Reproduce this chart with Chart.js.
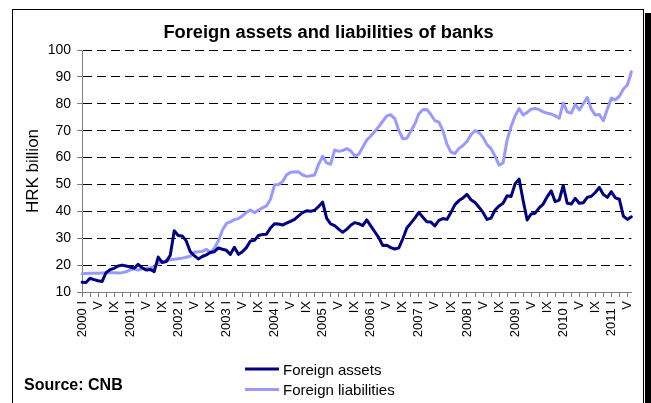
<!DOCTYPE html>
<html>
<head>
<meta charset="utf-8">
<script src="https://cdn.jsdelivr.net/npm/chart.js@4.4.0/dist/chart.umd.min.js"></script>
<style>
  html, body { margin: 0; padding: 0; background: #fff; }
</style>
</head>
<body>
<canvas id="chart" width="651" height="403"></canvas>
<script>
const FONT = '"Liberation Sans", Arial, sans-serif';

// monthly data, January 2000 - June 2011, HRK billion
const years = [2000, 2001, 2002, 2003, 2004, 2005, 2006, 2007, 2008, 2009, 2010, 2011];
const monthMarks = ['I', 'II', 'III', 'IV', 'V', 'VI', 'VII', 'VIII', 'IX', 'X', 'XI', 'XII'];
const lastMonth2011 = 6;

const foreignAssets = [
    13.6, 13.5, 15.1, 14.6, 14.2, 13.9, 17.2, 18.3, 18.8, 19.7, 20.0, 19.7,
    19.3, 18.9, 20.3, 19.0, 18.2, 18.4, 17.6, 23.0, 21.0, 21.3, 23.6, 32.8,
    31.0, 30.8, 29.0, 25.0, 23.5, 22.3, 23.2, 23.8, 24.7, 25.0, 26.4, 25.9,
    25.5, 24.0, 26.6, 24.0, 25.0, 26.5, 29.0, 29.2, 31.0, 31.4, 31.5, 33.8,
    35.4, 35.3, 34.9, 35.6, 36.3, 37.0, 38.3, 39.5, 40.2, 40.0, 40.4, 41.8,
    43.4, 37.5, 35.3, 34.7, 33.4, 32.2, 33.3, 34.8, 35.8, 35.4, 34.7, 36.8,
    34.6, 32.4, 30.2, 27.3, 27.4, 26.5, 26.0, 26.4, 29.8, 33.8, 35.6, 37.5,
    39.6, 37.8, 36.1, 36.0, 34.6, 36.6, 37.3, 37.0, 39.6, 42.5, 44.0, 45.0,
    46.3, 44.3, 43.3, 41.5, 39.6, 37.0, 37.5, 40.5, 42.0, 43.0, 45.8, 45.5,
    50.2, 52.0, 44.0, 36.8, 39.0, 39.3, 41.3, 42.7, 45.4, 47.6, 43.6, 44.2,
    49.6, 43.0, 42.7, 44.8, 43.0, 43.2, 45.2, 45.6, 47.0, 48.9, 46.3, 45.2,
    47.3, 45.0, 44.5, 38.2, 37.0, 38.0
];

const foreignLiabilities = [
    16.8, 16.9, 17.0, 17.0, 17.0, 17.1, 17.1, 17.2, 17.2, 17.1, 17.2, 17.5,
    18.2, 18.5, 18.2, 18.5, 18.8, 19.0, 19.3, 20.8, 21.2, 21.6, 22.0, 22.2,
    22.4, 22.6, 22.9, 23.3, 24.8, 25.0, 25.1, 25.9, 24.7, 26.3, 29.0, 33.0,
    35.5, 36.1, 36.9, 37.3, 38.3, 39.6, 40.5, 39.5, 40.5, 41.3, 42.0, 44.5,
    49.8, 50.0, 51.0, 53.5, 54.5, 54.6, 54.7, 53.5, 53.0, 53.2, 53.5, 57.5,
    60.5, 58.0, 57.5, 62.8, 62.3, 62.6, 63.3, 62.5, 60.6, 61.2, 63.8, 66.5,
    68.0, 69.7, 71.5, 73.5, 75.5, 75.9, 74.5, 70.0, 67.0, 67.2, 69.8, 72.5,
    76.3, 77.8, 77.9, 76.0, 73.7, 73.2, 70.0, 65.0, 62.0, 61.5, 63.4, 64.5,
    66.0, 68.5, 70.0, 69.3, 67.5, 64.8, 63.3, 60.5, 57.2, 58.0, 66.5, 71.5,
    75.5, 78.2, 75.8, 76.8, 78.0, 78.3, 77.8, 77.0, 76.5, 76.2, 75.5, 74.6,
    80.3, 77.0, 76.5, 79.8, 77.7, 80.0, 82.3, 78.0, 75.8, 76.0, 73.7, 78.0,
    82.1, 81.5, 82.8, 85.5, 87.0, 91.9
];

const months = [];
years.forEach(y => {
    monthMarks.forEach((m, k) => {
        if (y < 2011 || k < lastMonth2011) months.push({ year: y, mark: m, k: k });
    });
});

// only I, V and IX get a label; the year goes with January
function tickLabel(i) {
    const m = months[i];
    if (m.k === 0) return m.year + ' ' + m.mark;
    if (m.k === 4 || m.k === 8) return m.mark;
    return '';
}

const framePlugin = {
    id: 'frame',
    beforeDraw(chart) {
        const ctx = chart.ctx;
        ctx.save();
        ctx.fillStyle = '#fff';
        ctx.fillRect(0, 0, chart.width, chart.height);
        ctx.restore();
    },
    afterDraw(chart) {
        const ctx = chart.ctx;
        ctx.save();
        // outer border with shadow
        ctx.strokeStyle = '#000';
        ctx.lineWidth = 1;
        ctx.strokeRect(12.5, 9.5, 631, 410);
        ctx.fillStyle = '#000';
        ctx.fillRect(645, 13, 6, 390);

        // title
        ctx.fillStyle = '#000';
        ctx.font = 'bold 18.3px ' + FONT;
        ctx.textAlign = 'center';
        ctx.textBaseline = 'middle';
        ctx.fillText('Foreign assets and liabilities of banks', 328.5, 33);

        // legend, stacked
        ctx.font = '15px ' + FONT;
        ctx.textAlign = 'left';
        chart.data.datasets.forEach((ds, n) => {
            const y = 369 + n * 20.5;
            ctx.strokeStyle = ds.borderColor;
            ctx.lineWidth = 3;
            ctx.beginPath();
            ctx.moveTo(245, y);
            ctx.lineTo(279, y);
            ctx.stroke();
            ctx.fillStyle = '#000';
            ctx.fillText(ds.label, 283, y + 1.5);
        });

        ctx.font = 'bold 16px ' + FONT;
        ctx.fillText('Source: CNB', 24, 386);
        ctx.restore();
    }
};

new Chart(document.getElementById('chart'), {
    type: 'line',
    data: {
        labels: months.map(m => m.year + ' ' + m.mark),
        datasets: [{
            label: 'Foreign assets',
            data: foreignAssets,
            borderColor: '#000080',
            borderWidth: 3,
            pointRadius: 0,
            tension: 0,
            borderJoinStyle: 'round',
            borderCapStyle: 'round'
        }, {
            label: 'Foreign liabilities',
            data: foreignLiabilities,
            borderColor: '#9999FF',
            borderWidth: 3,
            pointRadius: 0,
            tension: 0,
            borderJoinStyle: 'round',
            borderCapStyle: 'round'
        }]
    },
    options: {
        responsive: false,
        animation: false,
        devicePixelRatio: 1,
        layout: { padding: { left: 0, right: 15, top: 50, bottom: 0 } },
        plugins: {
            legend: { display: false },
            tooltip: { enabled: false },
            title: { display: false }
        },
        scales: {
            x: {
                ticks: {
                    autoSkip: false,
                    minRotation: 90,
                    maxRotation: 90,
                    padding: 4,
                    color: '#000',
                    font: { family: FONT, size: 13 },
                    callback: (v, i) => tickLabel(i)
                },
                grid: {
                    drawOnChartArea: false,
                    drawTicks: true,
                    tickLength: 5,
                    tickColor: c => c.index % 2 === 0 ? '#808080' : 'rgba(0,0,0,0)'
                },
                border: { display: true, color: '#808080', width: 1 },
                afterFit: s => { s.height = 111; }
            },
            y: {
                min: 10,
                max: 100,
                ticks: {
                    stepSize: 10,
                    padding: 6,
                    color: '#000',
                    font: { family: FONT, size: 14 }
                },
                grid: {
                    color: c => (c.tick && c.tick.value === 10) ? 'rgba(0,0,0,0)' : '#000',
                    lineWidth: 1,
                    tickLength: 5,
                    tickColor: '#808080',
                    tickBorderDash: []
                },
                border: { display: true, color: '#808080', width: 1, dash: [9, 5] },
                title: {
                    display: true,
                    text: 'HRK billion',
                    color: '#000',
                    font: { family: FONT, size: 17 },
                    padding: { top: 23, bottom: 0 }
                },
                afterFit: s => { s.width = 82; }
            }
        }
    },
    plugins: [framePlugin]
});
</script>
</body>
</html>
